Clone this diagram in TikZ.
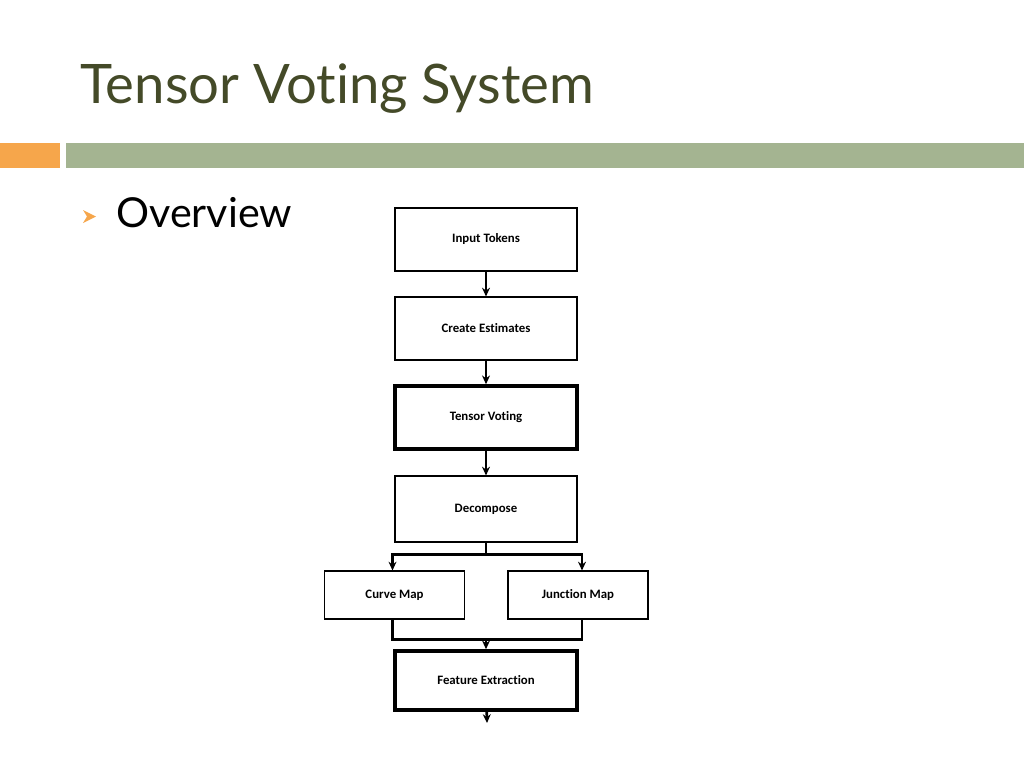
\documentclass[tikz,border=0pt]{standalone}
\usepackage{fontspec}
\setmainfont{Lato}[RawFeature=-liga]
\newfontfamily\boxfont{Carlito}[RawFeature=-liga]
\usetikzlibrary{arrows.meta, positioning, calc}
\definecolor{TitleOlive}{RGB}{68,74,40}
\definecolor{BarOrange}{RGB}{246,166,75}
\definecolor{BarGreen}{RGB}{164,180,145}

\begin{document}
\begin{tikzpicture}[x=0.02cm,y=-0.02cm,
    box/.style={draw=black,line width=0.6pt,fill=white,
                font=\boxfont\bfseries\fontsize{7.3}{8}\selectfont,
                minimum width=3.64cm,minimum height=1.26cm,inner sep=0pt},
    thickbox/.style={box,line width=2pt},
    smallbox/.style={box,minimum width=2.8cm,minimum height=0.96cm},
    arr/.style={-{Stealth[length=5pt,width=4.5pt]},black,line width=1.5pt},
    lnk/.style={black,line width=1.5pt}
  ]
    \useasboundingbox (0,0) rectangle (1024,768);
    \fill[white] (0,0) rectangle (1024,768);

    % Title and bars
    \node[anchor=base west,inner sep=0pt,text=TitleOlive,
          font=\fontsize{31}{36}\selectfont] (title) at (80,103)
      {Tensor Voting System};
    \fill[BarOrange] (0,143) rectangle (60,168);
    \fill[BarGreen]  (66,143) rectangle (1024,168);

    % Bullet
    \fill[BarOrange] (83,210) -- (96,216.5) -- (83,223) -- (87,216.5) -- cycle;
    \node[anchor=base west,inner sep=0pt,
          font=\fontsize{23.5}{28}\selectfont] (overview) at (116,227)
      {Overview};

    % Main column
    \node[box]      (tok) at (486,239.5) {Input Tokens};
    \node[box]      (est) at (486,328.5) {Create Estimates};
    \node[thickbox] (tv)  at (486,417.5) {Tensor Voting};
    \node[box,minimum height=1.32cm] (dec) at (486,509) {Decompose};
    \node[smallbox] (crv) at (394.5,595) {Curve Map};
    \node[smallbox] (jun) at (578,595)   {Junction Map};
    \node[thickbox,minimum height=1.18cm] (fe) at (486,680.5) {Feature Extraction};
    \coordinate (out) at (487,723);

    \draw[arr] (tok) -- (est);
    \draw[arr] (est) -- (tv);
    \draw[arr] (tv) -- (dec);

    % split
    \coordinate (split) at ($(dec.south)+(0,12)$);
    \draw[lnk] (dec.south) -- (split);
    \draw[arr] (split) -| ($(crv.north)+(-2,0)$);
    \draw[arr] (split) -| ($(jun.north)+(4,0)$);

    % merge
    \coordinate (merge) at ($(fe.north)+(0,-10)$);
    \draw[lnk] ($(crv.south)+(-2,0)$) |- (merge);
    \draw[lnk] ($(jun.south)+(4,0)$) |- (merge);
    \draw[arr] (merge) -- (fe);
    \draw[arr] (fe) -- (out);
  \end{tikzpicture}
\end{document}
